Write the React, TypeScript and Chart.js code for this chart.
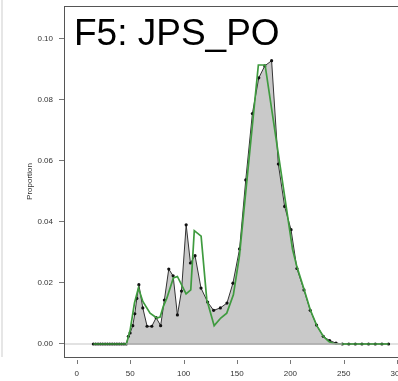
import React, { useEffect, useRef } from "react";
import { Chart, registerables } from "chart.js";

Chart.register(...registerables);

const titleText = "F5: JPS_PO";
const yAxisTitle = "Proportion";
const xTicks = [0, 50, 100, 150, 200, 250, 300];
const yTicks = [0, 0.02, 0.04, 0.06, 0.08, 0.1];

const observedX = [
  15.5, 17.7, 19.9, 22.1, 24.3, 26.5, 28.7, 30.9, 33.1, 35.3, 37.5, 39.7, 41.9, 44.1, 46.3,
  48.3, 49.9, 52.4, 54.3, 56.2, 58.1, 61.8, 65.8, 70.2, 74.3, 78.5, 82.0, 86.1, 90.2, 94.2,
  98.0, 102.4, 106.4, 110.7, 116.3, 122.5, 128.1, 134.4, 140.6, 146.2, 152.4, 158.2, 164.4,
  170.4, 176.0, 182.4, 188.7, 194.6, 200.6, 206.1, 212.7, 218.6, 224.5, 230.8, 236.7, 242.7,
  248.6, 254.7, 260.8, 267.0, 273.2, 279.5, 285.7, 291.9,
];
const observedY = [
  0, 0, 0, 0, 0, 0, 0, 0, 0, 0, 0, 0, 0, 0, 0,
  0.0025, 0.0036, 0.006, 0.0099, 0.0149, 0.0194, 0.0118, 0.0058, 0.0058, 0.0086, 0.006, 0.0144,
  0.0245, 0.0223, 0.0095, 0.0173, 0.039, 0.0265, 0.0289, 0.0183, 0.0137, 0.011, 0.0118, 0.0134,
  0.0199, 0.0311, 0.0537, 0.0754, 0.0871, 0.091, 0.0927, 0.0589, 0.045, 0.0374, 0.0247, 0.0177,
  0.011, 0.0062, 0.0025, 0.0011, 0.0003,
  0, 0, 0, 0, 0, 0, 0, 0,
];

const fittedX = [
  15.5, 46.5, 50.0, 54.0, 57.7, 61.8, 68.6, 74.9, 78.0, 81.0, 84.3, 90.4, 94.2, 102.3, 106.7,
  110.0, 116.4, 121.7, 128.6, 134.8, 140.4, 146.6, 152.2, 170.0, 176.3, 202.0, 206.0, 212.7,
  218.6, 224.7, 230.9, 236.0, 240.0, 244.0, 291.9,
];
const fittedY = [
  0, 0, 0.0047, 0.0134, 0.0183, 0.0139, 0.0101, 0.0085, 0.0088, 0.0123, 0.015, 0.0216, 0.0221,
  0.0164, 0.0177, 0.0371, 0.0353, 0.0145, 0.006, 0.0085, 0.0101, 0.0161, 0.0286, 0.0913, 0.0913,
  0.031, 0.0254, 0.018, 0.0112, 0.006, 0.0025, 0.0008, 0.0002, 0, 0,
];

const FONT = '"Liberation Sans", Arial, Helvetica, sans-serif';

export default function App() {
  const ref = useRef<HTMLCanvasElement>(null);

  useEffect(() => {
    const canvas = ref.current;
    if (!canvas) return;
    const W = 420;
    const H = 381;
    canvas.width = W;
    canvas.height = H;

    const framePlugin = {
      id: "rframe",
      beforeDatasetsDraw(chart: any) {
        const { ctx, chartArea } = chart;
        const y0 = chart.scales.y.getPixelForValue(0);
        ctx.save();
        ctx.strokeStyle = "#e2e2e2";
        ctx.lineWidth = 2;
        ctx.beginPath();
        ctx.moveTo(chartArea.left, y0);
        ctx.lineTo(chartArea.right, y0);
        ctx.stroke();
        ctx.restore();
      },
      afterDatasetsDraw(chart: any) {
        const { ctx } = chart;
        const xs = chart.scales.x;
        const y0 = chart.scales.y.getPixelForValue(0);
        let first = observedY.findIndex((v) => v > 0);
        let last = observedY.length - 1;
        while (last > 0 && observedY[last] === 0) last--;
        first = Math.max(0, first - 1);
        last = Math.min(observedY.length - 1, last + 1);
        ctx.save();
        ctx.strokeStyle = "#a8a8a8";
        ctx.lineWidth = 1.5;
        ctx.beginPath();
        ctx.moveTo(xs.getPixelForValue(observedX[first]), y0);
        ctx.lineTo(xs.getPixelForValue(observedX[last]), y0);
        ctx.stroke();
        ctx.restore();
      },
      afterDraw(chart: any) {
        const { ctx, chartArea } = chart;
        const xs = chart.scales.x;
        ctx.save();
        ctx.strokeStyle = "#555";
        ctx.lineWidth = 1;
        ctx.strokeRect(
          Math.round(chartArea.left) + 0.5,
          Math.round(chartArea.top) + 0.5,
          Math.round(chartArea.right - chartArea.left),
          Math.round(chartArea.bottom - chartArea.top)
        );
        ctx.strokeStyle = "#777";
        ctx.beginPath();
        for (const v of xTicks) {
          const px = Math.round(xs.getPixelForValue(v)) + 0.5;
          ctx.moveTo(px, chartArea.bottom + 3);
          ctx.lineTo(px, chartArea.bottom + 7);
        }
        ctx.stroke();
        ctx.fillStyle = "#000";
        ctx.font = `37px ${FONT}`;
        ctx.textBaseline = "alphabetic";
        ctx.textAlign = "left";
        ctx.fillText(titleText, chartArea.left + 10, chartArea.top + 39);
        ctx.restore();
      },
    };

    const chart = new Chart(canvas, {
      type: "line",
      data: {
        datasets: [
          {
            data: fittedX.map((x, i) => ({ x, y: fittedY[i] })),
            borderColor: "#3f9b3f",
            borderWidth: 1.7,
            pointRadius: 0,
            fill: false,
            tension: 0,
          },
          {
            data: observedX.map((x, i) => ({ x, y: observedY[i] })),
            borderColor: "#333",
            borderWidth: 1,
            pointRadius: 1.6,
            pointBorderWidth: 0,
            pointBackgroundColor: "#111",
            backgroundColor: "#c9c9c9",
            fill: "origin",
            tension: 0,
          },
        ],
      },
      options: {
        responsive: false,
        animation: false,
        devicePixelRatio: 1,
        layout: { padding: { top: 6, right: W - 410, left: 0, bottom: 0 } },
        plugins: { legend: { display: false }, tooltip: { enabled: false }, title: { display: false } },
        scales: {
          x: {
            type: "linear",
            min: -12,
            max: 312,
            afterBuildTicks: (s: any) => {
              s.ticks = xTicks.map((v) => ({ value: v }));
            },
            afterFit: (s: any) => {
              s.height = H - 357;
              s.paddingLeft = 0;
              s.paddingRight = 0;
            },
            border: { display: false },
            grid: { display: true, drawOnChartArea: false, color: "rgba(0,0,0,0)", tickLength: 7 },
            ticks: {
              padding: 5,
              autoSkip: false,
              maxRotation: 0,
              color: "#333",
              font: { family: FONT, size: 8 },
              callback: (v: any) => String(v),
            },
          },
          y: {
            type: "linear",
            min: -0.00426,
            max: 0.1106,
            afterBuildTicks: (s: any) => {
              s.ticks = yTicks.map((v) => ({ value: v }));
            },
            afterFit: (s: any) => {
              s.width = 64;
              s.paddingTop = 0;
              s.paddingBottom = 0;
            },
            border: { display: false },
            grid: { display: true, drawOnChartArea: false, color: "#777", tickLength: 5 },
            ticks: {
              padding: 6,
              autoSkip: false,
              color: "#333",
              font: { family: FONT, size: 8 },
              callback: (v: any) => Number(v).toFixed(2),
            },
            title: {
              display: true,
              text: yAxisTitle,
              color: "#333",
              font: { family: FONT, size: 8 },
              padding: { top: 25, bottom: 0 },
            },
          },
        },
      },
      plugins: [framePlugin],
    } as any);

    return () => chart.destroy();
  }, []);

  return (
    <div
      style={{
        position: "fixed",
        left: 0,
        top: 0,
        width: 398,
        height: 381,
        overflow: "hidden",
        background: "#fff",
      }}
    >
      <div
        style={{
          position: "absolute",
          left: 1,
          top: 0,
          width: 2,
          height: 357,
          background: "#e6e6e6",
        }}
      />
      <canvas ref={ref} width={420} height={381} style={{ display: "block", width: 420, height: 381 }} />
    </div>
  );
}
